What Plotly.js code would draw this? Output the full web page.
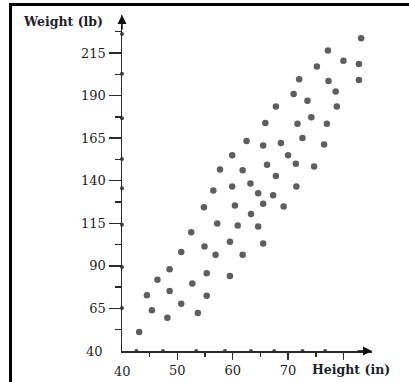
<!DOCTYPE html>
<html>
<head>
<meta charset="utf-8">
<script src="https://cdn.plot.ly/plotly-3.0.1.min.js"></script>
<style>
  html, body { margin: 0; padding: 0; background: #fff; overflow: hidden; }
  #chart { position: absolute; left: 0; top: 0; width: 409px; height: 382px; }
  #frame { position: absolute; left: 9px; top: 3px; width: 600px; height: 600px;
           border-left: 3px solid #000; border-top: 3px solid #000; pointer-events: none; }
</style>
</head>
<body>
<div id="chart"></div>
<div id="frame"></div>
<script>
// Heights (in) and weights (lb) of the sampled people
const heights = [43.1, 44.5, 45.4, 46.4, 48.2, 48.6, 48.6, 50.7, 50.7, 52.5,
                 52.7, 53.7, 54.8, 54.9, 55.3, 55.3, 56.5, 56.9, 57.2, 57.7,
                 59.5, 59.5, 59.9, 59.9, 60.4, 60.9, 61.8, 61.8, 62.5, 63.2,
                 63.3, 64.6, 64.6, 65.5, 65.5, 65.5, 65.9, 66.2, 67.3, 67.8,
                 67.8, 68.7, 69.2, 70.0, 71.0, 71.4, 71.5, 71.7, 72.0, 72.6,
                 73.5, 74.2, 74.7, 75.2, 76.5, 77.0, 77.2, 77.3, 78.6, 78.8,
                 80.0, 82.8, 82.8, 83.2];
const weights = [51.1, 72.8, 64.0, 81.9, 59.5, 88.0, 75.2, 98.1, 67.8, 109.7,
                 79.6, 62.3, 124.4, 101.3, 85.7, 72.4, 134.2, 96.5, 114.9, 146.6,
                 104.1, 84.0, 155.0, 136.6, 125.4, 113.7, 146.1, 96.5, 163.3, 138.3,
                 120.4, 132.7, 113.1, 160.7, 126.5, 103.1, 173.9, 149.4, 131.5, 183.5,
                 142.7, 162.2, 124.8, 155.0, 190.9, 150.0, 136.6, 173.4, 199.6, 165.1,
                 186.9, 177.3, 148.3, 207.0, 161.2, 173.4, 216.4, 198.6, 192.4, 183.5,
                 210.4, 208.6, 199.1, 223.7];

// small dots sitting on the axes
const xAxisDotHeights = [42.6, 47.4, 53.4, 58.6, 63.3, 67.5, 72.6, 76.7];
const yAxisDotWeights = [226.1, 202.8, 176.7, 152.7, 135.6, 114.1, 89.3, 65.3];

// ticks
const xTickVals = [50, 60, 70, 80];
const xTickText = ['50', '60', '70', ''];
const xMinorVals = [45, 55, 65, 75];
const yTickVals = [65, 90, 115, 140, 165, 190, 215];
const yTickText = ['65', '90', '115', '140', '165', '190', '215'];
const yMinorVals = [52.5, 77.5, 102.5, 127.5, 152.5, 177.5, 202.5, 227.5];
const originLabel = '40';

const xMin = 40, xMax = 85.16, yMin = 40, yMax = 237.3;

const textColor = '#1e1e28';
const axisColor = '#2a2a2a';
const tickFont = { family: 'DejaVu Serif, serif', size: 13, color: textColor };

const traces = [
  {
    type: 'scatter', mode: 'markers',
    x: heights, y: weights,
    marker: { color: '#5e5e5e', size: 6.5 },
    cliponaxis: false, hoverinfo: 'skip'
  },
  {
    type: 'scatter', mode: 'markers',
    x: xAxisDotHeights, y: xAxisDotHeights.map(() => yMin),
    marker: { color: '#4a4a4a', size: 4 },
    cliponaxis: false, hoverinfo: 'skip'
  },
  {
    type: 'scatter', mode: 'markers',
    x: yAxisDotWeights.map(() => xMin), y: yAxisDotWeights,
    marker: { color: '#4a4a4a', size: 4 },
    cliponaxis: false, hoverinfo: 'skip'
  }
];

const layout = {
  width: 409, height: 382,
  margin: { l: 122, r: 37, t: 15, b: 31 },
  paper_bgcolor: '#fff', plot_bgcolor: '#fff',
  showlegend: false,
  xaxis: {
    range: [xMin, xMax], showgrid: false, zeroline: false,
    showline: true, linecolor: axisColor, linewidth: 1.5,
    tickmode: 'array', tickvals: xTickVals, ticktext: xTickText,
    ticks: 'outside', ticklen: 7, tickwidth: 1.5, tickcolor: axisColor,
    tickfont: tickFont,
    minor: { tickmode: 'array', tickvals: xMinorVals, ticks: 'outside', ticklen: 4, tickwidth: 1.5, tickcolor: axisColor }
  },
  yaxis: {
    range: [yMin, yMax], showgrid: false, zeroline: false,
    showline: true, linecolor: axisColor, linewidth: 1.5,
    tickmode: 'array', tickvals: yTickVals, ticktext: yTickText,
    ticks: 'outside', ticklen: 12, tickwidth: 1.5, tickcolor: axisColor,
    tickfont: tickFont,
    minor: { tickmode: 'array', tickvals: yMinorVals, ticks: 'outside', ticklen: 6, tickwidth: 1.5, tickcolor: axisColor }
  },
  annotations: [
    { x: xMax, y: yMin, xref: 'x', yref: 'y', text: '', showarrow: true,
      ax: -16, ay: 0, arrowhead: 2, arrowsize: 1.2, arrowwidth: 1.5, arrowcolor: '#111', standoff: 0 },
    { x: xMin, y: yMax, xref: 'x', yref: 'y', text: '', showarrow: true,
      ax: 0, ay: 16, arrowhead: 2, arrowsize: 1.2, arrowwidth: 1.5, arrowcolor: '#111', standoff: 0 },
    { x: xMin, y: yMin, xref: 'x', yref: 'y', text: originLabel, showarrow: false,
      xanchor: 'right', yanchor: 'middle', xshift: -17, font: tickFont },
    { x: xMin, y: yMin, xref: 'x', yref: 'y', text: originLabel, showarrow: false,
      xanchor: 'center', yanchor: 'middle', yshift: -20, font: tickFont },
    { x: -0.068, y: 0.982, xref: 'paper', yref: 'paper', text: '<b>Weight (lb)</b>', showarrow: false,
      xanchor: 'right', yanchor: 'middle', font: { family: 'DejaVu Serif, serif', size: 12.5, color: textColor } },
    { x: 0.752, y: -0.0565, xref: 'paper', yref: 'paper', text: '<b>Height (in)</b>', showarrow: false,
      xanchor: 'left', yanchor: 'middle', font: { family: 'DejaVu Serif, serif', size: 12.5, color: textColor } }
  ]
};

Plotly.newPlot('chart', traces, layout, { staticPlot: true, displayModeBar: false });
</script>
</body>
</html>
